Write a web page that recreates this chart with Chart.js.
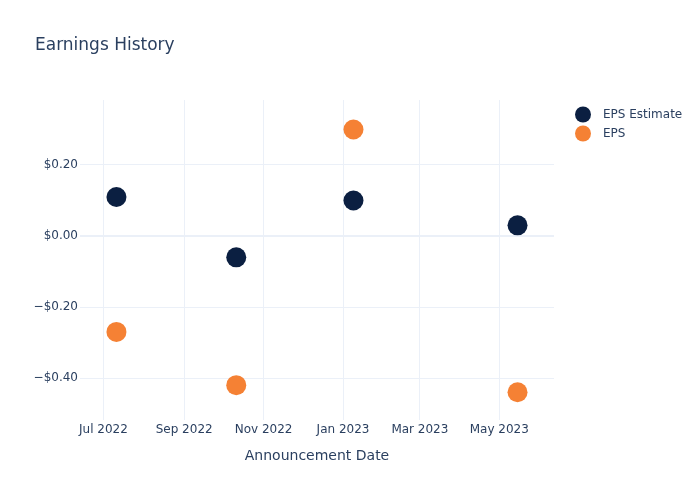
<!DOCTYPE html>
<html>
<head>
<meta charset="utf-8">
<script src="https://cdn.jsdelivr.net/npm/chart.js@4"></script>
<style>
  html, body { margin: 0; padding: 0; background: #fff; }
  #wrap { width: 700px; height: 500px; position: relative; }
</style>
</head>
<body>
<div id="wrap"><canvas id="c" width="700" height="500"></canvas></div>
<script>
// ---- data ----
const announcementDates = ['2022-07-11', '2022-10-11', '2023-01-09', '2023-05-15'];
const epsEstimate = [0.11, -0.06, 0.10, 0.03];
const epsActual = [-0.27, -0.42, 0.30, -0.44];
const xTickDates = ['2022-07-01', '2022-09-01', '2022-11-01', '2023-01-01', '2023-03-01', '2023-05-01'];
const xTickLabels = ['Jul 2022', 'Sep 2022', 'Nov 2022', 'Jan 2023', 'Mar 2023', 'May 2023'];
const yTickValues = [-0.4, -0.2, 0, 0.2];
const xRange = ['2022-06-13', '2023-06-12'];
const yRange = [-0.518, 0.383];
const seriesNames = ['EPS Estimate', 'EPS'];
const seriesColors = ['#0b1f41', '#f58134'];

const ts = s => Date.parse(s + 'T00:00:00Z');
const FONT = '"DejaVu Sans", "Open Sans", sans-serif';
const TEXT = '#2a3f5f';
const GRID = '#ebf0f8';

function fmtMoney(v) {
  const a = Math.abs(v).toFixed(2);
  if (Math.abs(v) < 1e-9) return '$0.00';
  return (v < 0 ? '\u2212$' : '$') + a;
}

const overlay = {
  id: 'overlay',
  afterDraw(chart) {
    const ctx = chart.ctx;
    const area = chart.chartArea;
    ctx.save();
    // title
    ctx.fillStyle = TEXT;
    ctx.font = '17px ' + FONT;
    ctx.textAlign = 'left';
    ctx.textBaseline = 'alphabetic';
    ctx.fillText('Earnings History', 35, 50);
    // x axis title
    ctx.font = '14px ' + FONT;
    ctx.textAlign = 'center';
    ctx.textBaseline = 'middle';
    ctx.fillText('Announcement Date', (area.left + area.right) / 2, 456);
    // legend
    ctx.font = '12px ' + FONT;
    ctx.textAlign = 'left';
    chart.data.datasets.forEach((ds, i) => {
      const y = 114.5 + i * 19;
      ctx.beginPath();
      ctx.fillStyle = ds.backgroundColor;
      ctx.arc(583, y, 8, 0, Math.PI * 2);
      ctx.fill();
      ctx.fillStyle = TEXT;
      ctx.fillText(ds.label, 603, y);
    });
    ctx.restore();
  }
};

new Chart(document.getElementById('c'), {
  type: 'scatter',
  data: {
    datasets: [
      {
        label: seriesNames[0],
        data: announcementDates.map((d, i) => ({ x: ts(d), y: epsEstimate[i] })),
        backgroundColor: seriesColors[0],
        borderWidth: 0,
        pointRadius: 10,
        pointHoverRadius: 10
      },
      {
        label: seriesNames[1],
        data: announcementDates.map((d, i) => ({ x: ts(d), y: epsActual[i] })),
        backgroundColor: seriesColors[1],
        borderWidth: 0,
        pointRadius: 10,
        pointHoverRadius: 10
      }
    ]
  },
  options: {
    responsive: false,
    animation: false,
    layout: { padding: { top: 100, right: 146, left: 0, bottom: 0 } },
    plugins: { legend: { display: false }, tooltip: { enabled: false }, title: { display: false } },
    scales: {
      x: {
        type: 'linear',
        min: ts(xRange[0]),
        max: ts(xRange[1]),
        afterBuildTicks: s => { s.ticks = xTickDates.map(d => ({ value: ts(d) })); },
        afterFit: s => { s.height = 80; },
        ticks: {
          autoSkip: false,
          maxRotation: 0,
          padding: 3,
          color: TEXT,
          font: { family: FONT, size: 12 },
          callback: v => {
            const i = xTickDates.findIndex(d => ts(d) === v);
            return i >= 0 ? xTickLabels[i] : '';
          }
        },
        grid: { color: GRID, lineWidth: 1, drawTicks: false },
        border: { display: false }
      },
      y: {
        type: 'linear',
        min: yRange[0],
        max: yRange[1],
        afterBuildTicks: s => { s.ticks = yTickValues.map(v => ({ value: v })); },
        afterFit: s => { s.width = 80; },
        ticks: {
          padding: 2,
          color: TEXT,
          font: { family: FONT, size: 12 },
          callback: v => fmtMoney(v)
        },
        grid: {
          color: GRID,
          lineWidth: c => (c.tick && Math.abs(c.tick.value) < 1e-9 ? 2 : 1),
          drawTicks: false
        },
        border: { display: false }
      }
    }
  },
  plugins: [overlay]
});
</script>
</body>
</html>
